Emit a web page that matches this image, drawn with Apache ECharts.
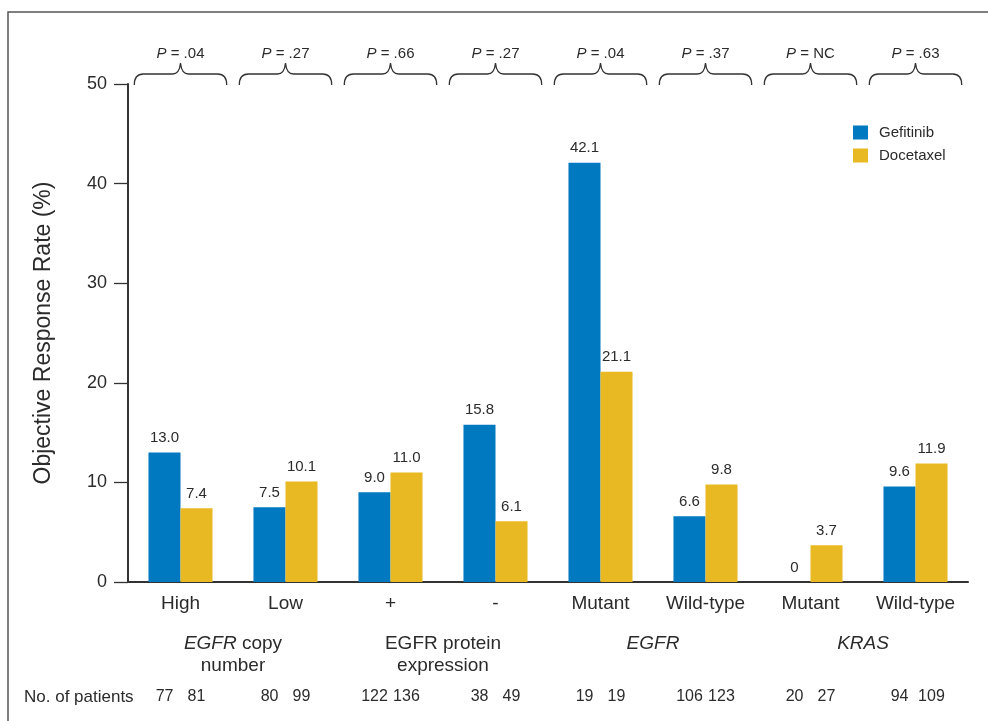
<!DOCTYPE html>
<html>
<head>
<meta charset="utf-8">
<script src="https://cdn.jsdelivr.net/npm/echarts@6/dist/echarts.min.js"></script>
<style>
  html, body { margin: 0; padding: 0; background: #fff; }
  #chart { width: 988px; height: 721px; }
</style>
</head>
<body>
<div id="chart"></div>
<script>
// Response rates by biomarker subgroup
const categories = ['High', 'Low', '+', '-', 'Mutant', 'Wild-type', 'Mutant', 'Wild-type'];
const gefitinib = [13.0, 7.5, 9.0, 15.8, 42.1, 6.6, 0, 9.6];
const docetaxel = [7.4, 10.1, 11.0, 6.1, 21.1, 9.8, 3.7, 11.9];
const pValues = ['.04', '.27', '.66', '.27', '.04', '.37', 'NC', '.63'];
const groupLabels = ['{i|EGFR} copy\nnumber', 'EGFR protein\nexpression', '{i|EGFR}', '{i|KRAS}'];
const patientsGefitinib = [77, 80, 122, 38, 19, 106, 20, 94];
const patientsDocetaxel = [81, 99, 136, 49, 19, 123, 27, 109];
const yTicks = [0, 10, 20, 30, 40, 50];

const FONT = '"Liberation Sans", Arial, sans-serif';
const INK = '#2b2b2b';
const BLUE = '#0079c1';
const GOLD = '#e8b923';

const chart = echarts.init(document.getElementById('chart'), null, { renderer: 'canvas' });

const valueLabel = {
  show: true,
  position: 'top',
  distance: 7,
  fontFamily: FONT,
  fontSize: 15,
  color: INK,
  formatter: p => (p.value === 0 ? '0' : p.value.toFixed(1))
};

// curly brace + P value above each subgroup
function renderBrace(params, api) {
  const c = api.coord([api.value(0), yTicks[yTicks.length - 1]]);
  const cx = c[0];
  const yTop = c[1];
  const half = api.size([1, 0])[0] * 0.44;
  const x0 = cx - half, x1 = cx + half;
  const yE = yTop + 1, yL = yTop - 10, yP = yTop - 21;
  const d = [
    'M', x0, yE,
    'Q', x0, yL, x0 + 9, yL,
    'L', cx - 8, yL,
    'Q', cx - 1, yL, cx, yP,
    'Q', cx + 1, yL, cx + 8, yL,
    'L', x1 - 9, yL,
    'Q', x1, yL, x1, yE
  ].join(' ');
  return {
    type: 'group',
    children: [
      {
        type: 'path',
        shape: { pathData: d },
        style: { fill: 'none', stroke: '#333', lineWidth: 1.3 }
      },
      {
        type: 'text',
        x: cx,
        y: yTop - 30,
        style: {
          text: '{i|P} = ' + pValues[params.dataIndex],
          fontFamily: FONT,
          fontSize: 15,
          fill: INK,
          align: 'center',
          verticalAlign: 'middle',
          rich: { i: { fontStyle: 'italic', fontFamily: FONT, fontSize: 15, fill: INK } }
        }
      }
    ]
  };
}

// patient counts under each bar
function renderPatients(params, api) {
  const base = api.coord([api.value(0), 0]);
  const w = api.size([1, 0])[0];
  const i = params.dataIndex;
  const mk = (x, t) => ({
    type: 'text',
    x: x,
    y: base[1] + 115,
    style: {
      text: String(t),
      fontFamily: FONT,
      fontSize: 16,
      fill: INK,
      align: 'center',
      verticalAlign: 'middle'
    }
  });
  return {
    type: 'group',
    children: [
      mk(base[0] - w * 0.152, patientsGefitinib[i]),
      mk(base[0] + w * 0.152, patientsDocetaxel[i])
    ]
  };
}

const option = {
  backgroundColor: '#fff',
  animation: false,
  textStyle: { fontFamily: FONT },
  grid: { left: 128, right: 20, top: 84, bottom: 139, containLabel: false },
  legend: {
    data: ['Gefitinib', 'Docetaxel'],
    orient: 'vertical',
    left: 853,
    top: 125,
    padding: 0,
    itemWidth: 15,
    itemHeight: 14,
    itemGap: 8,
    icon: 'rect',
    textStyle: { fontFamily: FONT, fontSize: 15, color: INK, padding: [0, 0, 0, 6] }
  },
  xAxis: [
    {
      type: 'category',
      data: categories,
      axisLine: { lineStyle: { color: '#333', width: 2 } },
      axisTick: { show: false },
      axisLabel: { fontFamily: FONT, fontSize: 19, color: INK, margin: 12, interval: 0 }
    },
    {
      type: 'category',
      data: groupLabels,
      position: 'bottom',
      axisLine: { show: false },
      axisTick: { show: false },
      axisLabel: {
        fontFamily: FONT, fontSize: 19, color: INK, margin: 51, lineHeight: 22, interval: 0,
        rich: { i: { fontStyle: 'italic', fontFamily: FONT, fontSize: 19, color: INK, lineHeight: 22 } }
      }
    }
  ],
  yAxis: {
    type: 'value',
    min: 0,
    max: 50,
    interval: 10,
    name: 'Objective Response Rate (%)',
    nameLocation: 'middle',
    nameGap: 73,
    nameTextStyle: { fontFamily: FONT, fontSize: 23, color: INK },
    axisLine: { show: true, lineStyle: { color: '#333', width: 2 } },
    axisTick: { show: true, length: 14, lineStyle: { color: '#333', width: 1.3 } },
    axisLabel: { fontFamily: FONT, fontSize: 18, color: INK, margin: 21 },
    splitLine: { show: false }
  },
  graphic: [
    {
      type: 'rect',
      x: 0,
      y: 0,
      shape: { x: 8, y: 12, width: 1000, height: 800 },
      style: { fill: 'none', stroke: '#555', lineWidth: 1.5 },
      silent: true
    },
    {
      type: 'text',
      x: 24,
      y: 697,
      style: { text: 'No. of patients', fontFamily: FONT, fontSize: 17, fill: INK, verticalAlign: 'middle' }
    }
  ],
  series: [
    {
      name: 'Gefitinib',
      type: 'bar',
      data: gefitinib,
      barWidth: '30.5%',
      barGap: '0%',
      itemStyle: { color: BLUE },
      label: valueLabel
    },
    {
      name: 'Docetaxel',
      type: 'bar',
      data: docetaxel,
      barWidth: '30.5%',
      barGap: '0%',
      itemStyle: { color: GOLD },
      label: valueLabel
    },
    {
      type: 'custom',
      name: 'braces',
      clip: false,
      silent: true,
      renderItem: renderBrace,
      encode: { x: 0, y: 1 },
      data: categories.map((c, i) => [i, 0])
    },
    {
      type: 'custom',
      name: 'patients',
      clip: false,
      silent: true,
      renderItem: renderPatients,
      encode: { x: 0, y: 1 },
      data: categories.map((c, i) => [i, 0])
    }
  ]
};

chart.setOption(option);
</script>
</body>
</html>
